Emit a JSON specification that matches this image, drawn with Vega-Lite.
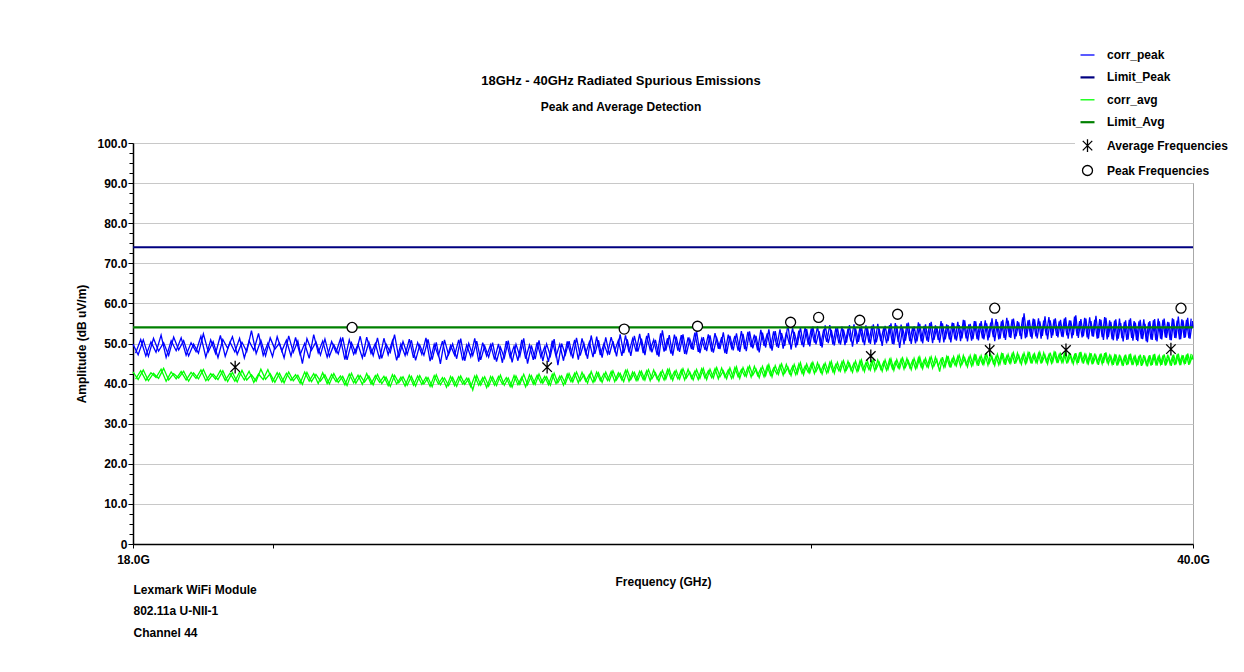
{
"$schema":"https://vega.github.io/schema/vega-lite/v6.json",
"width":1244,"height":672,
"autosize":{"type":"fit","contains":"padding"},
"padding":{"left":75,"right":34,"top":75,"bottom":34},
"background":"white",
"config":{
 "view":{"stroke":"#a8a8a8","strokeWidth":1},
 "font":"Liberation Sans",
 "legend":{"orient":"none","legendX":942,"legendY":-100,"fillColor":"white","padding":4,"labelFont":"Liberation Sans","labelFontSize":12,"labelFontWeight":"bold","labelColor":"black","labelOffset":11,"rowPadding":7.9,"title":null}
},
"title":{"text":"18GHz - 40GHz Radiated Spurious Emissions","subtitle":"Peak and Average Detection","anchor":"middle","frame":"group","dx":-42,"offset":24,"font":"Liberation Sans","fontSize":13,"fontWeight":"bold","color":"black","subtitleFont":"Liberation Sans","subtitleFontSize":12,"subtitleFontWeight":"bold","subtitleColor":"black","subtitlePadding":14},
"datasets":{
"noise":[
{"f":18.00,"corr_peak":49.8,"corr_avg":42.9},{"f":18.07,"corr_peak":47.2,"corr_avg":41.0},{"f":18.14,"corr_peak":50.9,"corr_avg":43.4},{"f":18.21,"corr_peak":46.8,"corr_avg":40.7},{"f":18.28,"corr_peak":51.3,"corr_avg":42.6},{"f":18.35,"corr_peak":48.1,"corr_avg":41.3},{"f":18.42,"corr_peak":50.2,"corr_avg":43.8},{"f":18.49,"corr_peak":47.0,"corr_avg":40.9},{"f":18.56,"corr_peak":51.6,"corr_avg":42.5},{"f":18.63,"corr_peak":48.4,"corr_avg":41.4},
{"f":18.70,"corr_peak":50.7,"corr_avg":43.1},{"f":18.77,"corr_peak":46.9,"corr_avg":40.6},{"f":18.84,"corr_peak":49.9,"corr_avg":42.7},{"f":18.91,"corr_peak":47.6,"corr_avg":41.2},{"f":18.98,"corr_peak":52.4,"corr_avg":43.5},{"f":19.05,"corr_peak":47.9,"corr_avg":40.8},{"f":19.12,"corr_peak":50.5,"corr_avg":42.4},{"f":19.19,"corr_peak":46.5,"corr_avg":41.0},{"f":19.26,"corr_peak":51.0,"corr_avg":43.2},{"f":19.33,"corr_peak":48.8,"corr_avg":40.5},
{"f":19.40,"corr_peak":51.7,"corr_avg":42.8},{"f":19.47,"corr_peak":47.3,"corr_avg":40.4},{"f":19.54,"corr_peak":50.3,"corr_avg":43.3},{"f":19.61,"corr_peak":48.0,"corr_avg":40.9},{"f":19.68,"corr_peak":53.2,"corr_avg":42.2},{"f":19.75,"corr_peak":47.5,"corr_avg":40.6},{"f":19.82,"corr_peak":50.8,"corr_avg":43.6},{"f":19.89,"corr_peak":46.9,"corr_avg":41.1},{"f":19.96,"corr_peak":51.4,"corr_avg":42.5},{"f":20.03,"corr_peak":48.6,"corr_avg":40.3},
{"f":20.10,"corr_peak":50.1,"corr_avg":42.6},{"f":20.17,"corr_peak":46.4,"corr_avg":40.2},{"f":20.24,"corr_peak":51.9,"corr_avg":42.9},{"f":20.31,"corr_peak":47.8,"corr_avg":40.7},{"f":20.38,"corr_peak":50.6,"corr_avg":42.1},{"f":20.45,"corr_peak":45.0,"corr_avg":39.8},{"f":20.52,"corr_peak":51.2,"corr_avg":42.8},{"f":20.59,"corr_peak":48.3,"corr_avg":40.5},{"f":20.66,"corr_peak":50.4,"corr_avg":42.3},{"f":20.73,"corr_peak":47.1,"corr_avg":40.6},
{"f":20.80,"corr_peak":51.1,"corr_avg":42.2},{"f":20.87,"corr_peak":46.8,"corr_avg":39.9},{"f":20.94,"corr_peak":49.7,"corr_avg":42.5},{"f":21.01,"corr_peak":47.4,"corr_avg":40.3},{"f":21.08,"corr_peak":51.5,"corr_avg":41.8},{"f":21.15,"corr_peak":45.9,"corr_avg":39.5},{"f":21.22,"corr_peak":50.2,"corr_avg":42.6},{"f":21.29,"corr_peak":47.6,"corr_avg":40.1},{"f":21.36,"corr_peak":51.8,"corr_avg":42.0},{"f":21.43,"corr_peak":46.7,"corr_avg":40.4},
{"f":21.50,"corr_peak":50.3,"corr_avg":41.9},{"f":21.57,"corr_peak":47.0,"corr_avg":39.7},{"f":21.64,"corr_peak":51.4,"corr_avg":42.3},{"f":21.71,"corr_peak":46.3,"corr_avg":40.0},{"f":21.78,"corr_peak":49.9,"corr_avg":41.6},{"f":21.85,"corr_peak":47.8,"corr_avg":39.3},{"f":21.92,"corr_peak":52.2,"corr_avg":42.1},{"f":21.99,"corr_peak":46.5,"corr_avg":40.2},{"f":22.06,"corr_peak":50.5,"corr_avg":41.7},{"f":22.13,"corr_peak":47.3,"corr_avg":39.6},
{"f":22.20,"corr_peak":50.8,"corr_avg":41.8},{"f":22.27,"corr_peak":45.8,"corr_avg":39.4},{"f":22.34,"corr_peak":49.6,"corr_avg":42.0},{"f":22.41,"corr_peak":47.1,"corr_avg":39.9},{"f":22.48,"corr_peak":51.0,"corr_avg":41.5},{"f":22.55,"corr_peak":46.0,"corr_avg":39.2},{"f":22.62,"corr_peak":50.3,"corr_avg":42.2},{"f":22.69,"corr_peak":44.9,"corr_avg":39.7},{"f":22.76,"corr_peak":50.9,"corr_avg":41.4},{"f":22.83,"corr_peak":47.2,"corr_avg":39.5},
{"f":22.90,"corr_peak":49.9,"corr_avg":41.6},{"f":22.97,"corr_peak":46.2,"corr_avg":39.3},{"f":23.04,"corr_peak":51.2,"corr_avg":41.9},{"f":23.11,"corr_peak":45.7,"corr_avg":39.8},{"f":23.18,"corr_peak":50.0,"corr_avg":41.3},{"f":23.25,"corr_peak":47.0,"corr_avg":38.4},{"f":23.32,"corr_peak":50.6,"corr_avg":42.0},{"f":23.39,"corr_peak":45.9,"corr_avg":39.6},{"f":23.46,"corr_peak":49.4,"corr_avg":41.7},{"f":23.53,"corr_peak":46.6,"corr_avg":39.4},
{"f":23.60,"corr_peak":50.2,"corr_avg":41.7},{"f":23.67,"corr_peak":45.5,"corr_avg":39.5},{"f":23.74,"corr_peak":49.1,"corr_avg":42.1},{"f":23.81,"corr_peak":46.4,"corr_avg":39.6},{"f":23.88,"corr_peak":50.7,"corr_avg":41.4},{"f":23.95,"corr_peak":45.3,"corr_avg":39.1},{"f":24.02,"corr_peak":49.8,"corr_avg":41.9},{"f":24.09,"corr_peak":46.8,"corr_avg":39.8},{"f":24.16,"corr_peak":51.3,"corr_avg":42.3},{"f":24.23,"corr_peak":45.0,"corr_avg":39.7},
{"f":24.30,"corr_peak":49.5,"corr_avg":42.0},{"f":24.37,"corr_peak":46.1,"corr_avg":39.8},{"f":24.44,"corr_peak":50.8,"corr_avg":42.4},{"f":24.51,"corr_peak":45.6,"corr_avg":40.1},{"f":24.58,"corr_peak":49.9,"corr_avg":41.7},{"f":24.65,"corr_peak":46.9,"corr_avg":39.6},{"f":24.72,"corr_peak":51.1,"corr_avg":42.6},{"f":24.79,"corr_peak":44.6,"corr_avg":40.2},{"f":24.86,"corr_peak":50.0,"corr_avg":41.9},{"f":24.93,"corr_peak":47.2,"corr_avg":40.0},
{"f":25.00,"corr_peak":50.6,"corr_avg":42.5},{"f":25.07,"corr_peak":46.3,"corr_avg":40.4},{"f":25.14,"corr_peak":51.4,"corr_avg":42.9},{"f":25.21,"corr_peak":47.0,"corr_avg":40.7},{"f":25.28,"corr_peak":50.1,"corr_avg":42.2},{"f":25.35,"corr_peak":46.2,"corr_avg":40.1},{"f":25.42,"corr_peak":52.0,"corr_avg":43.0},{"f":25.49,"corr_peak":47.4,"corr_avg":40.6},{"f":25.56,"corr_peak":50.8,"corr_avg":42.7},{"f":25.63,"corr_peak":46.5,"corr_avg":40.3},
{"f":25.70,"corr_peak":51.5,"corr_avg":42.9},{"f":25.77,"corr_peak":47.2,"corr_avg":40.7},{"f":25.84,"corr_peak":50.6,"corr_avg":43.2},{"f":25.91,"corr_peak":46.8,"corr_avg":40.9},{"f":25.98,"corr_peak":52.3,"corr_avg":42.6},{"f":26.05,"corr_peak":47.6,"corr_avg":40.5},{"f":26.12,"corr_peak":51.0,"corr_avg":43.4},{"f":26.19,"corr_peak":46.9,"corr_avg":41.0},{"f":26.26,"corr_peak":51.9,"corr_avg":42.8},{"f":26.33,"corr_peak":48.0,"corr_avg":40.8},
{"f":26.40,"corr_peak":51.2,"corr_avg":43.1},{"f":26.47,"corr_peak":47.1,"corr_avg":40.9},{"f":26.54,"corr_peak":52.6,"corr_avg":43.5},{"f":26.61,"corr_peak":47.8,"corr_avg":41.2},{"f":26.68,"corr_peak":50.9,"corr_avg":42.7},{"f":26.75,"corr_peak":46.7,"corr_avg":40.6},{"f":26.82,"corr_peak":53.3,"corr_avg":43.3},{"f":26.89,"corr_peak":48.2,"corr_avg":41.1},{"f":26.96,"corr_peak":52.1,"corr_avg":43.6},{"f":27.03,"corr_peak":47.0,"corr_avg":40.8},
{"f":27.10,"corr_peak":51.7,"corr_avg":43.3},{"f":27.17,"corr_peak":47.9,"corr_avg":41.1},{"f":27.24,"corr_peak":52.3,"corr_avg":43.7},{"f":27.31,"corr_peak":47.3,"corr_avg":41.4},{"f":27.38,"corr_peak":51.1,"corr_avg":42.9},{"f":27.45,"corr_peak":48.4,"corr_avg":40.9},{"f":27.52,"corr_peak":53.0,"corr_avg":43.5},{"f":27.59,"corr_peak":47.6,"corr_avg":41.3},{"f":27.66,"corr_peak":51.6,"corr_avg":43.8},{"f":27.73,"corr_peak":48.1,"corr_avg":41.0},
{"f":27.80,"corr_peak":52.0,"corr_avg":43.6},{"f":27.87,"corr_peak":47.7,"corr_avg":41.4},{"f":27.94,"corr_peak":51.4,"corr_avg":44.0},{"f":28.01,"corr_peak":48.6,"corr_avg":41.7},{"f":28.08,"corr_peak":52.8,"corr_avg":43.2},{"f":28.15,"corr_peak":47.4,"corr_avg":41.2},{"f":28.22,"corr_peak":51.9,"corr_avg":43.9},{"f":28.29,"corr_peak":48.3,"corr_avg":41.5},{"f":28.36,"corr_peak":52.5,"corr_avg":44.2},{"f":28.43,"corr_peak":47.9,"corr_avg":41.3},
{"f":28.50,"corr_peak":52.4,"corr_avg":44.0},{"f":28.57,"corr_peak":48.1,"corr_avg":41.8},{"f":28.64,"corr_peak":53.0,"corr_avg":44.4},{"f":28.71,"corr_peak":48.8,"corr_avg":42.1},{"f":28.78,"corr_peak":51.9,"corr_avg":43.6},{"f":28.85,"corr_peak":47.8,"corr_avg":41.5},{"f":28.92,"corr_peak":52.7,"corr_avg":44.3},{"f":28.99,"corr_peak":49.0,"corr_avg":42.0},{"f":29.06,"corr_peak":53.5,"corr_avg":44.7},{"f":29.13,"corr_peak":48.2,"corr_avg":41.7},
{"f":29.20,"corr_peak":53.1,"corr_avg":44.5},{"f":29.27,"corr_peak":48.9,"corr_avg":42.3},{"f":29.34,"corr_peak":52.6,"corr_avg":44.9},{"f":29.41,"corr_peak":49.4,"corr_avg":42.6},{"f":29.48,"corr_peak":54.8,"corr_avg":44.1},{"f":29.55,"corr_peak":48.5,"corr_avg":42.0},{"f":29.62,"corr_peak":52.9,"corr_avg":44.8},{"f":29.69,"corr_peak":49.6,"corr_avg":42.5},{"f":29.76,"corr_peak":54.0,"corr_avg":45.2},{"f":29.83,"corr_peak":49.1,"corr_avg":42.2},
{"f":29.90,"corr_peak":53.6,"corr_avg":44.9},{"f":29.97,"corr_peak":49.3,"corr_avg":42.7},{"f":30.04,"corr_peak":54.2,"corr_avg":45.3},{"f":30.11,"corr_peak":49.8,"corr_avg":43.0},{"f":30.18,"corr_peak":53.1,"corr_avg":44.6},{"f":30.25,"corr_peak":49.0,"corr_avg":42.4},{"f":30.32,"corr_peak":54.5,"corr_avg":45.1},{"f":30.39,"corr_peak":50.1,"corr_avg":42.9},{"f":30.46,"corr_peak":53.4,"corr_avg":45.5},{"f":30.53,"corr_peak":49.5,"corr_avg":42.6},
{"f":30.60,"corr_peak":54.0,"corr_avg":45.3},{"f":30.67,"corr_peak":49.7,"corr_avg":43.1},{"f":30.74,"corr_peak":53.5,"corr_avg":45.7},{"f":30.81,"corr_peak":50.2,"corr_avg":43.4},{"f":30.88,"corr_peak":54.6,"corr_avg":45.0},{"f":30.95,"corr_peak":49.2,"corr_avg":42.8},{"f":31.02,"corr_peak":53.8,"corr_avg":45.6},{"f":31.09,"corr_peak":50.4,"corr_avg":43.3},{"f":31.16,"corr_peak":54.3,"corr_avg":45.9},{"f":31.23,"corr_peak":49.6,"corr_avg":43.0},
{"f":31.30,"corr_peak":53.9,"corr_avg":45.6},{"f":31.37,"corr_peak":49.9,"corr_avg":43.4},{"f":31.44,"corr_peak":54.8,"corr_avg":46.0},{"f":31.51,"corr_peak":50.3,"corr_avg":43.7},{"f":31.58,"corr_peak":53.7,"corr_avg":45.3},{"f":31.65,"corr_peak":49.4,"corr_avg":43.1},{"f":31.72,"corr_peak":54.4,"corr_avg":45.9},{"f":31.79,"corr_peak":50.6,"corr_avg":43.6},{"f":31.86,"corr_peak":55.0,"corr_avg":46.2},{"f":31.93,"corr_peak":49.8,"corr_avg":43.3},
{"f":32.00,"corr_peak":54.5,"corr_avg":46.0},{"f":32.07,"corr_peak":48.9,"corr_avg":43.8},{"f":32.14,"corr_peak":53.9,"corr_avg":46.4},{"f":32.21,"corr_peak":50.7,"corr_avg":44.1},{"f":32.28,"corr_peak":55.2,"corr_avg":45.7},{"f":32.35,"corr_peak":49.9,"corr_avg":43.5},{"f":32.42,"corr_peak":54.3,"corr_avg":46.3},{"f":32.49,"corr_peak":50.5,"corr_avg":44.0},{"f":32.56,"corr_peak":54.9,"corr_avg":46.6},{"f":32.63,"corr_peak":50.0,"corr_avg":43.7},
{"f":32.70,"corr_peak":54.8,"corr_avg":46.3},{"f":32.77,"corr_peak":50.4,"corr_avg":44.1},{"f":32.84,"corr_peak":55.4,"corr_avg":46.7},{"f":32.91,"corr_peak":50.9,"corr_avg":44.4},{"f":32.98,"corr_peak":54.2,"corr_avg":46.0},{"f":33.05,"corr_peak":50.2,"corr_avg":43.0},{"f":33.12,"corr_peak":55.0,"corr_avg":46.6},{"f":33.19,"corr_peak":51.0,"corr_avg":44.3},{"f":33.26,"corr_peak":54.6,"corr_avg":46.9},{"f":33.33,"corr_peak":50.3,"corr_avg":44.0},
{"f":33.40,"corr_peak":55.1,"corr_avg":46.7},{"f":33.47,"corr_peak":50.7,"corr_avg":44.5},{"f":33.54,"corr_peak":54.6,"corr_avg":47.1},{"f":33.61,"corr_peak":51.3,"corr_avg":44.8},{"f":33.68,"corr_peak":55.8,"corr_avg":46.4},{"f":33.75,"corr_peak":50.5,"corr_avg":44.2},{"f":33.82,"corr_peak":54.9,"corr_avg":47.0},{"f":33.89,"corr_peak":51.1,"corr_avg":44.7},{"f":33.96,"corr_peak":55.5,"corr_avg":47.3},{"f":34.03,"corr_peak":50.8,"corr_avg":44.4},
{"f":34.10,"corr_peak":55.6,"corr_avg":47.0},{"f":34.17,"corr_peak":51.0,"corr_avg":44.8},{"f":34.24,"corr_peak":55.0,"corr_avg":47.4},{"f":34.31,"corr_peak":51.5,"corr_avg":45.1},{"f":34.38,"corr_peak":56.3,"corr_avg":46.7},{"f":34.45,"corr_peak":50.6,"corr_avg":44.5},{"f":34.52,"corr_peak":55.4,"corr_avg":47.3},{"f":34.59,"corr_peak":51.2,"corr_avg":45.0},{"f":34.66,"corr_peak":55.9,"corr_avg":47.6},{"f":34.73,"corr_peak":50.9,"corr_avg":44.7},
{"f":34.80,"corr_peak":55.7,"corr_avg":47.3},{"f":34.87,"corr_peak":51.4,"corr_avg":45.1},{"f":34.94,"corr_peak":56.2,"corr_avg":47.7},{"f":35.01,"corr_peak":51.8,"corr_avg":45.4},{"f":35.08,"corr_peak":55.3,"corr_avg":47.0},{"f":35.15,"corr_peak":51.1,"corr_avg":44.8},{"f":35.22,"corr_peak":57.5,"corr_avg":47.6},{"f":35.29,"corr_peak":51.6,"corr_avg":45.3},{"f":35.36,"corr_peak":55.9,"corr_avg":47.9},{"f":35.43,"corr_peak":51.2,"corr_avg":45.0},
{"f":35.50,"corr_peak":56.0,"corr_avg":47.4},{"f":35.57,"corr_peak":51.3,"corr_avg":45.2},{"f":35.64,"corr_peak":55.5,"corr_avg":47.8},{"f":35.71,"corr_peak":51.9,"corr_avg":45.5},{"f":35.78,"corr_peak":56.8,"corr_avg":47.1},{"f":35.85,"corr_peak":51.0,"corr_avg":44.9},{"f":35.92,"corr_peak":55.8,"corr_avg":47.7},{"f":35.99,"corr_peak":52.0,"corr_avg":45.4},{"f":36.06,"corr_peak":56.3,"corr_avg":48.0},{"f":36.13,"corr_peak":51.5,"corr_avg":45.1},
{"f":36.20,"corr_peak":55.9,"corr_avg":47.4},{"f":36.27,"corr_peak":51.6,"corr_avg":45.3},{"f":36.34,"corr_peak":56.5,"corr_avg":47.8},{"f":36.41,"corr_peak":51.2,"corr_avg":45.5},{"f":36.48,"corr_peak":55.7,"corr_avg":47.1},{"f":36.55,"corr_peak":52.1,"corr_avg":44.9},{"f":36.62,"corr_peak":57.0,"corr_avg":47.6},{"f":36.69,"corr_peak":51.4,"corr_avg":45.2},{"f":36.76,"corr_peak":56.1,"corr_avg":47.9},{"f":36.83,"corr_peak":51.8,"corr_avg":45.0},
{"f":36.90,"corr_peak":56.2,"corr_avg":47.2},{"f":36.97,"corr_peak":51.1,"corr_avg":45.0},{"f":37.04,"corr_peak":55.6,"corr_avg":47.6},{"f":37.11,"corr_peak":51.7,"corr_avg":45.3},{"f":37.18,"corr_peak":56.9,"corr_avg":46.9},{"f":37.25,"corr_peak":51.3,"corr_avg":44.7},{"f":37.32,"corr_peak":55.9,"corr_avg":47.5},{"f":37.39,"corr_peak":50.9,"corr_avg":45.1},{"f":37.46,"corr_peak":56.4,"corr_avg":47.8},{"f":37.53,"corr_peak":51.6,"corr_avg":44.9},
{"f":37.60,"corr_peak":55.4,"corr_avg":46.9},{"f":37.67,"corr_peak":50.8,"corr_avg":44.7},{"f":37.74,"corr_peak":56.0,"corr_avg":47.3},{"f":37.81,"corr_peak":51.2,"corr_avg":45.0},{"f":37.88,"corr_peak":55.1,"corr_avg":46.6},{"f":37.95,"corr_peak":50.5,"corr_avg":44.4},{"f":38.02,"corr_peak":55.8,"corr_avg":47.2},{"f":38.09,"corr_peak":51.0,"corr_avg":44.8},{"f":38.16,"corr_peak":56.3,"corr_avg":47.5},{"f":38.23,"corr_peak":50.7,"corr_avg":44.6},
{"f":38.30,"corr_peak":55.2,"corr_avg":46.8},{"f":38.37,"corr_peak":50.6,"corr_avg":44.6},{"f":38.44,"corr_peak":55.9,"corr_avg":47.2},{"f":38.51,"corr_peak":51.1,"corr_avg":44.9},{"f":38.58,"corr_peak":54.9,"corr_avg":46.5},{"f":38.65,"corr_peak":50.3,"corr_avg":44.3},{"f":38.72,"corr_peak":55.6,"corr_avg":47.1},{"f":38.79,"corr_peak":50.9,"corr_avg":44.7},{"f":38.86,"corr_peak":56.1,"corr_avg":47.4},{"f":38.93,"corr_peak":50.5,"corr_avg":44.5},
{"f":39.00,"corr_peak":55.5,"corr_avg":46.9},{"f":39.07,"corr_peak":51.0,"corr_avg":44.7},{"f":39.14,"corr_peak":56.2,"corr_avg":47.3},{"f":39.21,"corr_peak":51.4,"corr_avg":45.0},{"f":39.28,"corr_peak":55.3,"corr_avg":46.6},{"f":39.35,"corr_peak":50.8,"corr_avg":44.4},{"f":39.42,"corr_peak":56.0,"corr_avg":47.2},{"f":39.49,"corr_peak":51.3,"corr_avg":44.8},{"f":39.56,"corr_peak":56.7,"corr_avg":47.5},{"f":39.63,"corr_peak":51.1,"corr_avg":44.6},
{"f":39.70,"corr_peak":55.8,"corr_avg":47.1},{"f":39.77,"corr_peak":51.5,"corr_avg":44.9},{"f":39.84,"corr_peak":56.4,"corr_avg":47.5},{"f":39.91,"corr_peak":51.2,"corr_avg":45.2},{"f":39.98,"corr_peak":55.6,"corr_avg":46.8},{"f":40.00,"corr_peak":53.9,"corr_avg":46.0}
],
"noise2":[
{"f":18.035,"corr_peak":47.6,"corr_avg":41.1},{"f":18.105,"corr_peak":51.0,"corr_avg":43.2},{"f":18.175,"corr_peak":46.9,"corr_avg":40.8},{"f":18.245,"corr_peak":50.4,"corr_avg":42.7},{"f":18.315,"corr_peak":47.8,"corr_avg":41.5},{"f":18.385,"corr_peak":52.1,"corr_avg":43.6},{"f":18.455,"corr_peak":46.5,"corr_avg":40.6},{"f":18.525,"corr_peak":50.7,"corr_avg":42.9},{"f":18.595,"corr_peak":48.2,"corr_avg":41.2},{"f":18.665,"corr_peak":51.4,"corr_avg":43.0},
{"f":18.735,"corr_peak":47.1,"corr_avg":40.9},{"f":18.805,"corr_peak":50.2,"corr_avg":42.8},{"f":18.875,"corr_peak":48.0,"corr_avg":41.3},{"f":18.945,"corr_peak":51.8,"corr_avg":43.4},{"f":19.015,"corr_peak":46.6,"corr_avg":40.7},{"f":19.085,"corr_peak":50.9,"corr_avg":42.5},{"f":19.155,"corr_peak":47.5,"corr_avg":41.1},{"f":19.225,"corr_peak":52.0,"corr_avg":43.3},{"f":19.295,"corr_peak":46.8,"corr_avg":40.8},{"f":19.365,"corr_peak":50.3,"corr_avg":42.6},
{"f":19.435,"corr_peak":47.9,"corr_avg":40.6},{"f":19.505,"corr_peak":51.3,"corr_avg":42.9},{"f":19.575,"corr_peak":46.4,"corr_avg":40.9},{"f":19.645,"corr_peak":50.6,"corr_avg":43.1},{"f":19.715,"corr_peak":48.3,"corr_avg":40.3},{"f":19.785,"corr_peak":52.5,"corr_avg":42.4},{"f":19.855,"corr_peak":47.0,"corr_avg":41.0},{"f":19.925,"corr_peak":50.1,"corr_avg":43.5},{"f":19.995,"corr_peak":46.7,"corr_avg":40.5},{"f":20.065,"corr_peak":51.7,"corr_avg":42.7},
{"f":20.135,"corr_peak":48.1,"corr_avg":40.4},{"f":20.205,"corr_peak":50.8,"corr_avg":42.6},{"f":20.275,"corr_peak":46.9,"corr_avg":40.8},{"f":20.345,"corr_peak":51.5,"corr_avg":42.2},{"f":20.415,"corr_peak":47.2,"corr_avg":40.1},{"f":20.485,"corr_peak":50.0,"corr_avg":42.9},{"f":20.555,"corr_peak":46.3,"corr_avg":40.6},{"f":20.625,"corr_peak":52.2,"corr_avg":42.5},{"f":20.695,"corr_peak":47.7,"corr_avg":40.0},{"f":20.765,"corr_peak":50.6,"corr_avg":42.7},
{"f":20.835,"corr_peak":46.6,"corr_avg":40.0},{"f":20.905,"corr_peak":50.5,"corr_avg":42.3},{"f":20.975,"corr_peak":47.8,"corr_avg":40.5},{"f":21.045,"corr_peak":51.2,"corr_avg":41.9},{"f":21.115,"corr_peak":46.0,"corr_avg":39.7},{"f":21.185,"corr_peak":50.9,"corr_avg":42.4},{"f":21.255,"corr_peak":47.3,"corr_avg":40.2},{"f":21.325,"corr_peak":49.8,"corr_avg":42.1},{"f":21.395,"corr_peak":46.4,"corr_avg":39.8},{"f":21.465,"corr_peak":51.6,"corr_avg":42.5},
{"f":21.535,"corr_peak":47.5,"corr_avg":39.9},{"f":21.605,"corr_peak":50.0,"corr_avg":42.0},{"f":21.675,"corr_peak":46.1,"corr_avg":40.3},{"f":21.745,"corr_peak":51.3,"corr_avg":41.8},{"f":21.815,"corr_peak":47.2,"corr_avg":39.5},{"f":21.885,"corr_peak":50.7,"corr_avg":42.2},{"f":21.955,"corr_peak":45.8,"corr_avg":39.9},{"f":22.025,"corr_peak":49.9,"corr_avg":41.6},{"f":22.095,"corr_peak":47.0,"corr_avg":39.4},{"f":22.165,"corr_peak":51.1,"corr_avg":42.1},
{"f":22.235,"corr_peak":46.4,"corr_avg":39.6},{"f":22.305,"corr_peak":50.2,"corr_avg":41.9},{"f":22.375,"corr_peak":47.3,"corr_avg":39.8},{"f":22.445,"corr_peak":51.4,"corr_avg":41.6},{"f":22.515,"corr_peak":45.6,"corr_avg":39.3},{"f":22.585,"corr_peak":49.8,"corr_avg":42.0},{"f":22.655,"corr_peak":46.9,"corr_avg":39.9},{"f":22.725,"corr_peak":50.6,"corr_avg":41.5},{"f":22.795,"corr_peak":45.9,"corr_avg":39.1},{"f":22.865,"corr_peak":49.5,"corr_avg":41.8},
{"f":22.935,"corr_peak":47.1,"corr_avg":39.5},{"f":23.005,"corr_peak":50.9,"corr_avg":41.7},{"f":23.075,"corr_peak":45.8,"corr_avg":39.9},{"f":23.145,"corr_peak":49.6,"corr_avg":41.4},{"f":23.215,"corr_peak":46.7,"corr_avg":39.2},{"f":23.285,"corr_peak":51.3,"corr_avg":41.9},{"f":23.355,"corr_peak":45.5,"corr_avg":39.6},{"f":23.425,"corr_peak":50.2,"corr_avg":41.5},{"f":23.495,"corr_peak":46.9,"corr_avg":39.0},{"f":23.565,"corr_peak":49.7,"corr_avg":41.8},
{"f":23.635,"corr_peak":46.0,"corr_avg":39.6},{"f":23.705,"corr_peak":49.9,"corr_avg":41.8},{"f":23.775,"corr_peak":45.2,"corr_avg":39.9},{"f":23.845,"corr_peak":50.6,"corr_avg":41.5},{"f":23.915,"corr_peak":46.5,"corr_avg":39.3},{"f":23.985,"corr_peak":49.3,"corr_avg":42.0},{"f":24.055,"corr_peak":45.7,"corr_avg":39.7},{"f":24.125,"corr_peak":50.9,"corr_avg":41.6},{"f":24.195,"corr_peak":46.2,"corr_avg":39.2},{"f":24.265,"corr_peak":49.6,"corr_avg":42.2},
{"f":24.335,"corr_peak":45.9,"corr_avg":39.9},{"f":24.405,"corr_peak":50.3,"corr_avg":42.1},{"f":24.475,"corr_peak":46.6,"corr_avg":40.2},{"f":24.545,"corr_peak":49.2,"corr_avg":41.8},{"f":24.615,"corr_peak":45.4,"corr_avg":39.7},{"f":24.685,"corr_peak":50.7,"corr_avg":42.3},{"f":24.755,"corr_peak":46.8,"corr_avg":40.0},{"f":24.825,"corr_peak":49.8,"corr_avg":41.9},{"f":24.895,"corr_peak":45.7,"corr_avg":39.6},{"f":24.965,"corr_peak":50.5,"corr_avg":42.4},
{"f":25.035,"corr_peak":47.2,"corr_avg":40.5},{"f":25.105,"corr_peak":50.9,"corr_avg":42.6},{"f":25.175,"corr_peak":46.0,"corr_avg":40.2},{"f":25.245,"corr_peak":51.3,"corr_avg":42.8},{"f":25.315,"corr_peak":47.5,"corr_avg":40.6},{"f":25.385,"corr_peak":50.4,"corr_avg":42.3},{"f":25.455,"corr_peak":46.6,"corr_avg":40.3},{"f":25.525,"corr_peak":51.7,"corr_avg":42.9},{"f":25.595,"corr_peak":47.1,"corr_avg":40.7},{"f":25.665,"corr_peak":50.0,"corr_avg":42.5},
{"f":25.735,"corr_peak":47.4,"corr_avg":40.8},{"f":25.805,"corr_peak":51.6,"corr_avg":43.0},{"f":25.875,"corr_peak":48.2,"corr_avg":40.5},{"f":25.945,"corr_peak":50.8,"corr_avg":42.7},{"f":26.015,"corr_peak":46.9,"corr_avg":40.9},{"f":26.085,"corr_peak":52.0,"corr_avg":43.3},{"f":26.155,"corr_peak":47.8,"corr_avg":40.6},{"f":26.225,"corr_peak":51.2,"corr_avg":42.9},{"f":26.295,"corr_peak":48.0,"corr_avg":40.8},{"f":26.365,"corr_peak":52.4,"corr_avg":43.1},
{"f":26.435,"corr_peak":47.6,"corr_avg":41.0},{"f":26.505,"corr_peak":51.9,"corr_avg":43.2},{"f":26.575,"corr_peak":48.4,"corr_avg":40.7},{"f":26.645,"corr_peak":50.9,"corr_avg":43.4},{"f":26.715,"corr_peak":47.1,"corr_avg":41.1},{"f":26.785,"corr_peak":52.5,"corr_avg":42.8},{"f":26.855,"corr_peak":48.0,"corr_avg":40.9},{"f":26.925,"corr_peak":51.3,"corr_avg":43.5},{"f":26.995,"corr_peak":47.5,"corr_avg":41.2},{"f":27.065,"corr_peak":52.2,"corr_avg":43.0},
{"f":27.135,"corr_peak":48.2,"corr_avg":41.2},{"f":27.205,"corr_peak":52.1,"corr_avg":43.4},{"f":27.275,"corr_peak":47.4,"corr_avg":40.9},{"f":27.345,"corr_peak":51.5,"corr_avg":43.6},{"f":27.415,"corr_peak":48.6,"corr_avg":41.3},{"f":27.485,"corr_peak":52.7,"corr_avg":43.1},{"f":27.555,"corr_peak":47.9,"corr_avg":41.0},{"f":27.625,"corr_peak":51.2,"corr_avg":43.7},{"f":27.695,"corr_peak":48.4,"corr_avg":41.4},{"f":27.765,"corr_peak":52.3,"corr_avg":43.2},
{"f":27.835,"corr_peak":48.0,"corr_avg":41.5},{"f":27.905,"corr_peak":52.6,"corr_avg":43.7},{"f":27.975,"corr_peak":48.7,"corr_avg":41.2},{"f":28.045,"corr_peak":51.6,"corr_avg":43.9},{"f":28.115,"corr_peak":47.6,"corr_avg":41.6},{"f":28.185,"corr_peak":52.2,"corr_avg":43.4},{"f":28.255,"corr_peak":48.9,"corr_avg":41.3},{"f":28.325,"corr_peak":51.9,"corr_avg":44.0},{"f":28.395,"corr_peak":48.2,"corr_avg":41.7},{"f":28.465,"corr_peak":53.1,"corr_avg":43.5},
{"f":28.535,"corr_peak":48.6,"corr_avg":41.9},{"f":28.605,"corr_peak":52.9,"corr_avg":44.1},{"f":28.675,"corr_peak":49.1,"corr_avg":41.6},{"f":28.745,"corr_peak":52.2,"corr_avg":44.3},{"f":28.815,"corr_peak":48.3,"corr_avg":42.0},{"f":28.885,"corr_peak":53.4,"corr_avg":43.8},{"f":28.955,"corr_peak":49.4,"corr_avg":41.7},{"f":29.025,"corr_peak":52.5,"corr_avg":44.4},{"f":29.095,"corr_peak":48.8,"corr_avg":42.1},{"f":29.165,"corr_peak":53.0,"corr_avg":43.9},
{"f":29.235,"corr_peak":49.2,"corr_avg":42.4},{"f":29.305,"corr_peak":53.5,"corr_avg":44.6},{"f":29.375,"corr_peak":48.7,"corr_avg":42.1},{"f":29.445,"corr_peak":52.8,"corr_avg":44.8},{"f":29.515,"corr_peak":49.8,"corr_avg":42.5},{"f":29.585,"corr_peak":53.9,"corr_avg":44.3},{"f":29.655,"corr_peak":49.0,"corr_avg":42.2},{"f":29.725,"corr_peak":53.2,"corr_avg":44.9},{"f":29.795,"corr_peak":49.6,"corr_avg":42.6},{"f":29.865,"corr_peak":54.1,"corr_avg":44.4},
{"f":29.935,"corr_peak":49.7,"corr_avg":42.8},{"f":30.005,"corr_peak":53.8,"corr_avg":45.0},{"f":30.075,"corr_peak":50.2,"corr_avg":42.5},{"f":30.145,"corr_peak":54.3,"corr_avg":45.2},{"f":30.215,"corr_peak":49.4,"corr_avg":42.9},{"f":30.285,"corr_peak":53.5,"corr_avg":44.7},{"f":30.355,"corr_peak":50.4,"corr_avg":42.6},{"f":30.425,"corr_peak":54.6,"corr_avg":45.3},{"f":30.495,"corr_peak":49.8,"corr_avg":43.0},{"f":30.565,"corr_peak":53.9,"corr_avg":44.8},
{"f":30.635,"corr_peak":50.0,"corr_avg":43.2},{"f":30.705,"corr_peak":54.2,"corr_avg":45.4},{"f":30.775,"corr_peak":49.6,"corr_avg":42.9},{"f":30.845,"corr_peak":53.7,"corr_avg":45.6},{"f":30.915,"corr_peak":50.5,"corr_avg":43.3},{"f":30.985,"corr_peak":54.8,"corr_avg":45.1},{"f":31.055,"corr_peak":49.9,"corr_avg":43.0},{"f":31.125,"corr_peak":54.0,"corr_avg":45.7},{"f":31.195,"corr_peak":50.3,"corr_avg":43.4},{"f":31.265,"corr_peak":54.5,"corr_avg":45.2},
{"f":31.335,"corr_peak":50.2,"corr_avg":43.5},{"f":31.405,"corr_peak":54.4,"corr_avg":45.7},{"f":31.475,"corr_peak":49.7,"corr_avg":43.2},{"f":31.545,"corr_peak":54.9,"corr_avg":45.9},{"f":31.615,"corr_peak":50.6,"corr_avg":43.6},{"f":31.685,"corr_peak":53.8,"corr_avg":45.4},{"f":31.755,"corr_peak":50.0,"corr_avg":43.3},{"f":31.825,"corr_peak":54.6,"corr_avg":46.0},{"f":31.895,"corr_peak":49.9,"corr_avg":43.7},{"f":31.965,"corr_peak":55.1,"corr_avg":45.5},
{"f":32.035,"corr_peak":50.4,"corr_avg":43.9},{"f":32.105,"corr_peak":54.7,"corr_avg":46.1},{"f":32.175,"corr_peak":49.8,"corr_avg":43.6},{"f":32.245,"corr_peak":55.0,"corr_avg":46.3},{"f":32.315,"corr_peak":50.6,"corr_avg":44.0},{"f":32.385,"corr_peak":54.1,"corr_avg":45.8},{"f":32.455,"corr_peak":50.0,"corr_avg":43.7},{"f":32.525,"corr_peak":55.3,"corr_avg":46.4},{"f":32.595,"corr_peak":50.5,"corr_avg":44.1},{"f":32.665,"corr_peak":54.4,"corr_avg":45.9},
{"f":32.735,"corr_peak":50.7,"corr_avg":44.2},{"f":32.805,"corr_peak":55.1,"corr_avg":46.4},{"f":32.875,"corr_peak":50.1,"corr_avg":43.9},{"f":32.945,"corr_peak":54.5,"corr_avg":46.6},{"f":33.015,"corr_peak":50.9,"corr_avg":44.3},{"f":33.085,"corr_peak":55.6,"corr_avg":46.1},{"f":33.155,"corr_peak":50.3,"corr_avg":44.0},{"f":33.225,"corr_peak":54.8,"corr_avg":46.7},{"f":33.295,"corr_peak":51.0,"corr_avg":44.4},{"f":33.365,"corr_peak":55.2,"corr_avg":46.2},
{"f":33.435,"corr_peak":51.0,"corr_avg":44.6},{"f":33.505,"corr_peak":55.4,"corr_avg":46.8},{"f":33.575,"corr_peak":50.6,"corr_avg":44.3},{"f":33.645,"corr_peak":55.9,"corr_avg":47.0},{"f":33.715,"corr_peak":51.3,"corr_avg":44.7},{"f":33.785,"corr_peak":54.8,"corr_avg":46.5},{"f":33.855,"corr_peak":50.7,"corr_avg":44.4},{"f":33.925,"corr_peak":55.6,"corr_avg":47.1},{"f":33.995,"corr_peak":51.1,"corr_avg":44.8},{"f":34.065,"corr_peak":55.0,"corr_avg":46.6},
{"f":34.135,"corr_peak":51.3,"corr_avg":44.9},{"f":34.205,"corr_peak":55.8,"corr_avg":47.1},{"f":34.275,"corr_peak":50.8,"corr_avg":44.6},{"f":34.345,"corr_peak":55.2,"corr_avg":47.3},{"f":34.415,"corr_peak":51.6,"corr_avg":45.0},{"f":34.485,"corr_peak":56.1,"corr_avg":46.8},{"f":34.555,"corr_peak":51.0,"corr_avg":44.7},{"f":34.625,"corr_peak":55.5,"corr_avg":47.4},{"f":34.695,"corr_peak":51.4,"corr_avg":45.1},{"f":34.765,"corr_peak":56.4,"corr_avg":46.9},
{"f":34.835,"corr_peak":51.6,"corr_avg":45.2},{"f":34.905,"corr_peak":56.0,"corr_avg":47.4},{"f":34.975,"corr_peak":51.1,"corr_avg":44.9},{"f":35.045,"corr_peak":55.6,"corr_avg":47.6},{"f":35.115,"corr_peak":51.9,"corr_avg":45.3},{"f":35.185,"corr_peak":56.5,"corr_avg":47.1},{"f":35.255,"corr_peak":51.3,"corr_avg":45.0},{"f":35.325,"corr_peak":55.8,"corr_avg":47.7},{"f":35.395,"corr_peak":51.7,"corr_avg":45.4},{"f":35.465,"corr_peak":56.2,"corr_avg":47.2},
{"f":35.535,"corr_peak":51.8,"corr_avg":45.3},{"f":35.605,"corr_peak":56.3,"corr_avg":47.5},{"f":35.675,"corr_peak":51.2,"corr_avg":45.0},{"f":35.745,"corr_peak":55.7,"corr_avg":47.7},{"f":35.815,"corr_peak":52.0,"corr_avg":45.4},{"f":35.885,"corr_peak":56.6,"corr_avg":47.2},{"f":35.955,"corr_peak":51.4,"corr_avg":45.1},{"f":36.025,"corr_peak":56.0,"corr_avg":47.8},{"f":36.095,"corr_peak":51.9,"corr_avg":45.5},{"f":36.165,"corr_peak":55.5,"corr_avg":47.3},
{"f":36.235,"corr_peak":51.7,"corr_avg":45.3},{"f":36.305,"corr_peak":56.2,"corr_avg":47.5},{"f":36.375,"corr_peak":52.0,"corr_avg":45.0},{"f":36.445,"corr_peak":55.8,"corr_avg":47.7},{"f":36.515,"corr_peak":51.3,"corr_avg":45.4},{"f":36.585,"corr_peak":56.7,"corr_avg":47.2},{"f":36.655,"corr_peak":51.9,"corr_avg":45.1},{"f":36.725,"corr_peak":55.6,"corr_avg":47.8},{"f":36.795,"corr_peak":51.5,"corr_avg":45.5},{"f":36.865,"corr_peak":56.4,"corr_avg":47.3},
{"f":36.935,"corr_peak":51.5,"corr_avg":45.1},{"f":37.005,"corr_peak":56.5,"corr_avg":47.3},{"f":37.075,"corr_peak":51.8,"corr_avg":44.8},{"f":37.145,"corr_peak":55.9,"corr_avg":47.5},{"f":37.215,"corr_peak":51.2,"corr_avg":45.2},{"f":37.285,"corr_peak":56.1,"corr_avg":47.0},{"f":37.355,"corr_peak":51.6,"corr_avg":44.9},{"f":37.425,"corr_peak":56.6,"corr_avg":47.6},{"f":37.495,"corr_peak":51.0,"corr_avg":45.3},{"f":37.565,"corr_peak":55.8,"corr_avg":47.1},
{"f":37.635,"corr_peak":51.1,"corr_avg":44.8},{"f":37.705,"corr_peak":55.7,"corr_avg":47.0},{"f":37.775,"corr_peak":50.7,"corr_avg":44.5},{"f":37.845,"corr_peak":56.2,"corr_avg":47.2},{"f":37.915,"corr_peak":51.3,"corr_avg":44.9},{"f":37.985,"corr_peak":55.4,"corr_avg":46.7},{"f":38.055,"corr_peak":50.9,"corr_avg":44.6},{"f":38.125,"corr_peak":55.9,"corr_avg":47.3},{"f":38.195,"corr_peak":51.4,"corr_avg":45.0},{"f":38.265,"corr_peak":55.6,"corr_avg":46.8},
{"f":38.335,"corr_peak":50.9,"corr_avg":44.7},{"f":38.405,"corr_peak":55.5,"corr_avg":46.9},{"f":38.475,"corr_peak":51.2,"corr_avg":44.4},{"f":38.545,"corr_peak":56.0,"corr_avg":47.1},{"f":38.615,"corr_peak":50.6,"corr_avg":44.8},{"f":38.685,"corr_peak":55.3,"corr_avg":46.6},{"f":38.755,"corr_peak":51.0,"corr_avg":44.5},{"f":38.825,"corr_peak":55.8,"corr_avg":47.2},{"f":38.895,"corr_peak":50.8,"corr_avg":44.9},{"f":38.965,"corr_peak":56.2,"corr_avg":46.7},
{"f":39.035,"corr_peak":51.2,"corr_avg":44.8},{"f":39.105,"corr_peak":55.9,"corr_avg":47.0},{"f":39.175,"corr_peak":51.5,"corr_avg":44.5},{"f":39.245,"corr_peak":55.4,"corr_avg":47.2},{"f":39.315,"corr_peak":50.9,"corr_avg":44.9},{"f":39.385,"corr_peak":56.3,"corr_avg":46.7},{"f":39.455,"corr_peak":51.4,"corr_avg":44.6},{"f":39.525,"corr_peak":55.7,"corr_avg":47.3},{"f":39.595,"corr_peak":51.0,"corr_avg":45.0},{"f":39.665,"corr_peak":56.0,"corr_avg":46.8},
{"f":39.735,"corr_peak":51.4,"corr_avg":45.0},{"f":39.805,"corr_peak":55.9,"corr_avg":47.2},{"f":39.875,"corr_peak":51.3,"corr_avg":44.7},{"f":39.945,"corr_peak":56.2,"corr_avg":47.4}
],
"limits":[
{"s":"Limit_Peak","f":18,"y":74},{"s":"Limit_Peak","f":40,"y":74},
{"s":"Limit_Avg","f":18,"y":54},{"s":"Limit_Avg","f":40,"y":54}
],
"marks":[
{"s":"Average Frequencies","f":19.44,"y":44.1},
{"s":"Average Frequencies","f":24.59,"y":44.1},
{"s":"Average Frequencies","f":31.38,"y":46.9},
{"s":"Average Frequencies","f":34.32,"y":48.4},
{"s":"Average Frequencies","f":36.35,"y":48.4},
{"s":"Average Frequencies","f":39.34,"y":48.6},
{"s":"Peak Frequencies","f":21.23,"y":54.0},
{"s":"Peak Frequencies","f":26.06,"y":53.6},
{"s":"Peak Frequencies","f":27.54,"y":54.3},
{"s":"Peak Frequencies","f":29.54,"y":55.3},
{"s":"Peak Frequencies","f":30.17,"y":56.5},
{"s":"Peak Frequencies","f":31.12,"y":55.8},
{"s":"Peak Frequencies","f":32.02,"y":57.3},
{"s":"Peak Frequencies","f":34.45,"y":58.8},
{"s":"Peak Frequencies","f":39.64,"y":58.8}
]
},
"resolve":{"axis":{"x":"independent"}},
"layer":[
{
 "data":{"name":"noise"},
 "transform":[{"fold":["corr_peak","corr_avg"],"as":["s","y"]}],
 "mark":{"type":"line","interpolate":"linear"},
 "encoding":{
  "x":{"field":"f","type":"quantitative","scale":{"type":"log","domain":[18,40],"nice":false},
   "axis":{"orient":"bottom","values":[18,20,30,40],"tickCount":4,"labelExpr":"datum.value == 18 ? '18.0G' : (datum.value == 40 ? '40.0G' : '')","grid":false,"domainColor":"black","domainWidth":1.5,"tickColor":"black","tickSize":4,"labelFont":"Liberation Sans","labelFontSize":12,"labelFontWeight":"bold","labelColor":"black","labelPadding":6,"labelOverlap":false,"labelFlush":false,"title":"Frequency (GHz)","titleFont":"Liberation Sans","titleFontSize":12,"titleFontWeight":"bold","titleColor":"black","titlePadding":11}},
  "y":{"field":"y","type":"quantitative","scale":{"domain":[0,100],"nice":false},
   "axis":{"values":[0,2.5,5,7.5,10,12.5,15,17.5,20,22.5,25,27.5,30,32.5,35,37.5,40,42.5,45,47.5,50,52.5,55,57.5,60,62.5,65,67.5,70,72.5,75,77.5,80,82.5,85,87.5,90,92.5,95,97.5,100],"tickCount":41,
    "labelExpr":"datum.value % 10 == 0 ? (datum.value == 0 ? '0' : format(datum.value, '.1f')) : ''",
    "labelOverlap":false,"labelFlush":false,
    "grid":true,"gridColor":"#c8c8c8","gridOpacity":{"condition":{"test":"datum.value % 10 == 0","value":1},"value":0},
    "tickSize":{"condition":{"test":"datum.value % 10 == 0","value":5},"value":4},
    "domainColor":"black","domainWidth":1.5,"tickColor":"black",
    "labelFont":"Liberation Sans","labelFontSize":12,"labelFontWeight":"bold","labelColor":"black","labelPadding":1,
    "title":"Amplitude (dB uV/m)","titleFont":"Liberation Sans","titleFontSize":12,"titleFontWeight":"bold","titleColor":"black","titlePadding":8}},
  "stroke":{"field":"s","type":"nominal","scale":{"domain":["corr_peak","Limit_Peak","corr_avg","Limit_Avg","Average Frequencies","Peak Frequencies"],"range":["#0000ff","#000080","#00ff00","#008000","#000000","#000000"]}},
  "strokeWidth":{"field":"s","type":"nominal","scale":{"type":"ordinal","domain":["corr_peak","Limit_Peak","corr_avg","Limit_Avg","Average Frequencies","Peak Frequencies"],"range":[1.3,2.2,1.3,2.2,1.3,1.3]}}
 }
},
{
 "data":{"name":"noise2"},
 "transform":[{"fold":["corr_peak","corr_avg"],"as":["s","y"]}],
 "mark":{"type":"line","interpolate":"linear"},
 "encoding":{
  "x":{"field":"f","type":"quantitative","scale":{"type":"log","domain":[18,40],"nice":false},"axis":null},
  "y":{"field":"y","type":"quantitative"},
  "stroke":{"field":"s","type":"nominal"},
  "strokeWidth":{"field":"s","type":"nominal","scale":{"type":"ordinal","domain":["corr_peak","Limit_Peak","corr_avg","Limit_Avg","Average Frequencies","Peak Frequencies"],"range":[1.3,2.2,1.3,2.2,1.3,1.3]}}
 }
},
{
 "data":{"name":"limits"},
 "mark":{"type":"line"},
 "encoding":{
  "x":{"field":"f","type":"quantitative","scale":{"type":"log","domain":[18,40],"nice":false},"axis":null},
  "y":{"field":"y","type":"quantitative"},
  "stroke":{"field":"s","type":"nominal"},
  "strokeWidth":{"field":"s","type":"nominal","scale":{"type":"ordinal","domain":["corr_peak","Limit_Peak","corr_avg","Limit_Avg","Average Frequencies","Peak Frequencies"],"range":[1.3,2.2,1.3,2.2,1.3,1.3]}}
 }
},
{
 "data":{"name":"marks"},
 "mark":{"type":"point","filled":true,"fill":"white","strokeWidth":1.3,"opacity":1},
 "encoding":{
  "x":{"field":"f","type":"quantitative","scale":{"type":"log","domain":[18,40],"nice":false},
   "axis":{"orient":"bottom","domain":false,"ticks":false,"labels":false,"grid":false,"title":["Lexmark WiFi Module","802.11a U-NII-1","Channel 44"],"titleX":0,"titleY":40,"titleAlign":"left","titleAnchor":"start","titleBaseline":"top","titleLineHeight":21.5,"titleFont":"Liberation Sans","titleFontSize":12,"titleFontWeight":"bold","titleColor":"black","titleAngle":0}},
  "y":{"field":"y","type":"quantitative"},
  "stroke":{"field":"s","type":"nominal"},
  "shape":{"field":"s","type":"nominal","scale":{"domain":["corr_peak","Limit_Peak","corr_avg","Limit_Avg","Average Frequencies","Peak Frequencies"],"range":["stroke","stroke","stroke","stroke","M0,-1L0,1M-0.75,-0.75L0.75,0.75M-0.75,0.75L0.75,-0.75","circle"]}},
  "size":{"field":"s","type":"nominal","scale":{"type":"ordinal","domain":["corr_peak","Limit_Peak","corr_avg","Limit_Avg","Average Frequencies","Peak Frequencies"],"range":[196,196,196,196,160,100]}}
 }
}
]
}
